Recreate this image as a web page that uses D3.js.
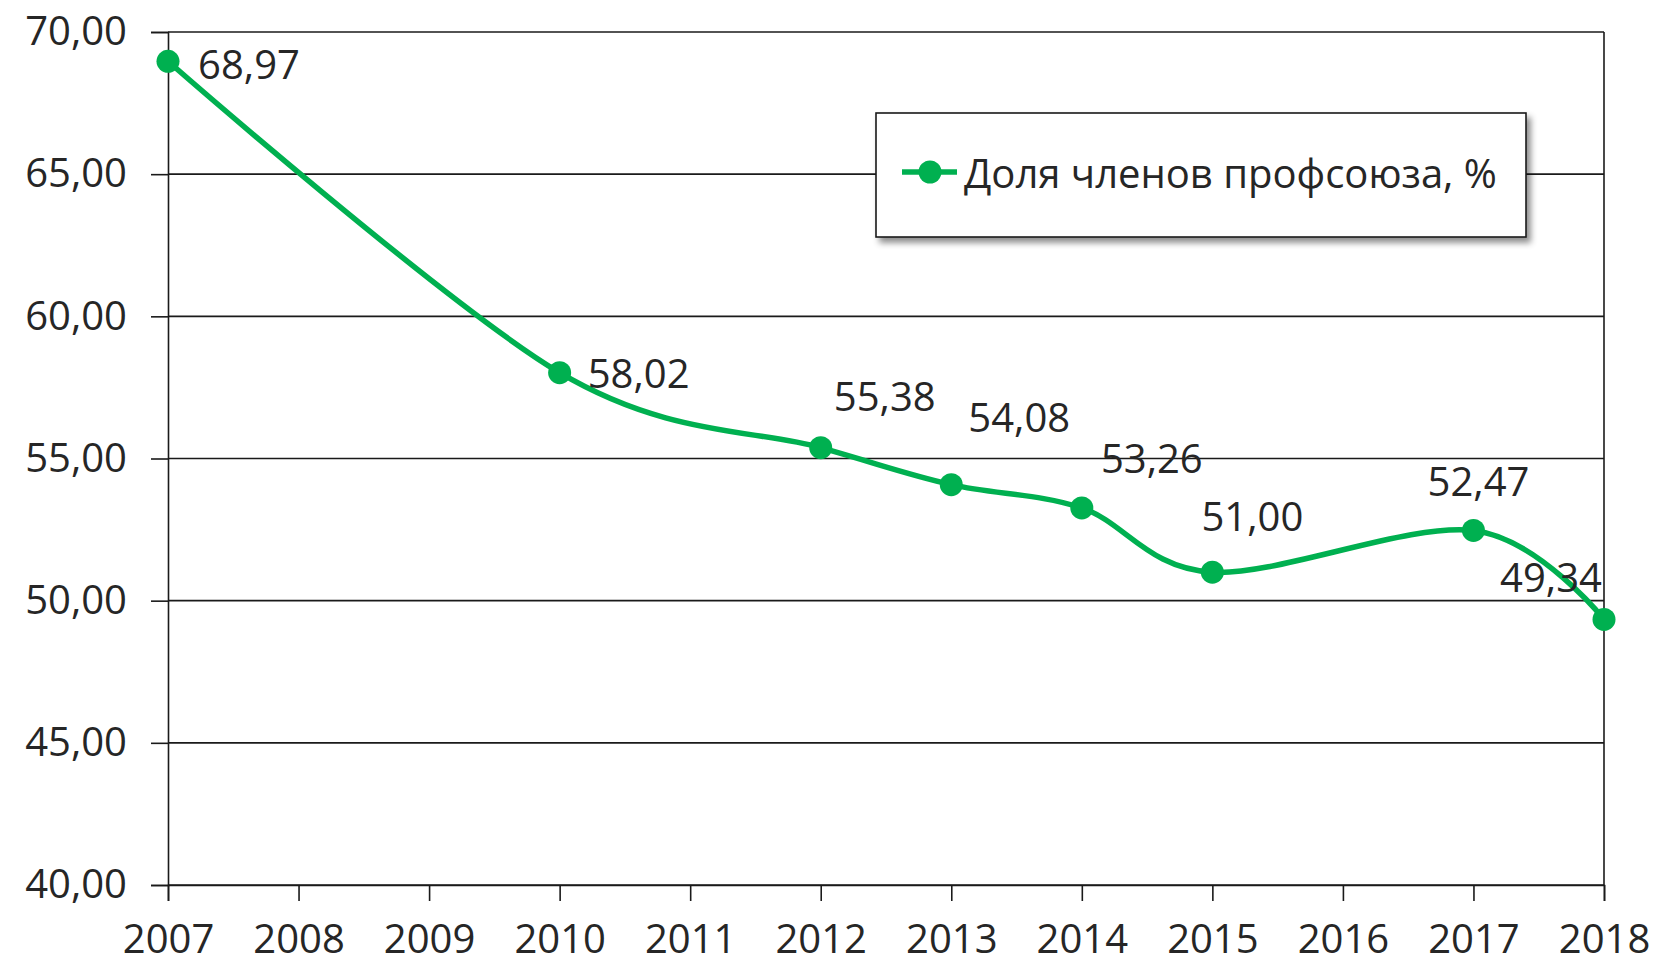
<!DOCTYPE html>
<html>
<head>
<meta charset="utf-8">
<script src="https://cdn.jsdelivr.net/npm/d3@7"></script>
<style>
  body { margin: 0; background: #fff; }
  svg { display: block; font-family: 'Open Sans', sans-serif; }
</style>
</head>
<body>
<svg id="chart"></svg>
<script>
// data
const years = [2007, 2010, 2012, 2013, 2014, 2015, 2017, 2018];
const shares = [68.97, 58.02, 55.38, 54.08, 53.26, 51.00, 52.47, 49.34];
const xTicks = [2007, 2008, 2009, 2010, 2011, 2012, 2013, 2014, 2015, 2016, 2017, 2018];
const yTicks = [40, 45, 50, 55, 60, 65, 70];
const seriesName = 'Доля членов профсоюза, %';

// label nudges (px) so they sit like in the original
const labelDx = [81, 79, 64, 68, 70, 40, 5, -53];
const labelDy = [2, 0, -52, -68, -50, -57, -50, -43];

const green = '#00b050';
const ink = '#262626';

const W = 1658, H = 964;
const margin = {top: 32, bottom: 79, left: 168, right: 54};
const width = W - margin.left - margin.right;
const height = H - margin.top - margin.bottom;

const fmt = d3.formatLocale({decimal: ',', thousands: ' ', grouping: [3], currency: ['', '']}).format('.2f');

const root = d3.select('#chart')
  .attr('width', W)
  .attr('height', H);

const defs = root.append('defs');
const shadow = defs.append('filter')
  .attr('id', 'shadow')
  .attr('x', '-10%').attr('y', '-20%')
  .attr('width', '130%').attr('height', '160%');
shadow.append('feDropShadow')
  .attr('dx', 4).attr('dy', 5)
  .attr('stdDeviation', 3)
  .attr('flood-color', '#000')
  .attr('flood-opacity', 0.45);

const svg = root.append('g')
  .attr('transform', `translate(${margin.left}, ${margin.top})`);

const x = d3.scaleLinear()
  .domain([2007, 2018])
  .range([0, width]);

const y = d3.scaleLinear()
  .domain([40, 70])
  .range([height, 0]);

// gridlines
svg.append('g')
  .selectAll('line')
  .data(yTicks)
  .enter()
  .append('line')
  .attr('x1', 0)
  .attr('x2', width)
  .attr('y1', d => y(d))
  .attr('y2', d => y(d))
  .attr('stroke', '#1a1a1a')
  .attr('stroke-width', 1.6);

// right border
svg.append('line')
  .attr('x1', width).attr('x2', width)
  .attr('y1', 0).attr('y2', height)
  .attr('stroke', '#1a1a1a')
  .attr('stroke-width', 1.6);

// axes
const yAxis = svg.append('g')
  .call(d3.axisLeft(y).tickValues(yTicks).tickSize(17).tickPadding(24).tickFormat(d => fmt(d)));

const xAxis = svg.append('g')
  .attr('transform', `translate(0, ${height})`)
  .call(d3.axisBottom(x).tickValues(xTicks).tickSize(16).tickPadding(24).tickFormat(d3.format('d')));

[yAxis, xAxis].forEach(ax => {
  ax.select('.domain').attr('stroke', '#1a1a1a').attr('stroke-width', 1.6);
  ax.selectAll('.tick line').attr('stroke', '#1a1a1a').attr('stroke-width', 1.6);
  ax.selectAll('.tick text')
    .attr('fill', ink)
    .style('font-size', '40px')
    .style('font-family', "'Open Sans', sans-serif");
});

// line
const line = d3.line()
  .x(d => x(d[0]))
  .y(d => y(d[1]))
  .curve(d3.curveCardinal.tension(0));

const points = years.map((yr, i) => [yr, shares[i]]);

svg.append('path')
  .datum(points)
  .attr('fill', 'none')
  .attr('stroke', green)
  .attr('stroke-width', 5.5)
  .attr('d', line);

svg.selectAll('circle.pt')
  .data(points)
  .enter()
  .append('circle')
  .attr('class', 'pt')
  .attr('cx', d => x(d[0]))
  .attr('cy', d => y(d[1]))
  .attr('r', 11.5)
  .attr('fill', green);

svg.selectAll('text.lbl')
  .data(points)
  .enter()
  .append('text')
  .attr('class', 'lbl')
  .attr('x', (d, i) => x(d[0]) + labelDx[i])
  .attr('y', (d, i) => y(d[1]) + labelDy[i])
  .attr('text-anchor', 'middle')
  .attr('dominant-baseline', 'central')
  .attr('fill', ink)
  .style('font-size', '40px')
  .text(d => fmt(d[1]));

// legend
const legend = root.append('g')
  .attr('transform', 'translate(876, 113)');

legend.append('rect')
  .attr('width', 650)
  .attr('height', 124)
  .attr('fill', '#fff')
  .attr('stroke', '#1a1a1a')
  .attr('stroke-width', 1.6)
  .attr('filter', 'url(#shadow)');

legend.append('line')
  .attr('x1', 26).attr('x2', 81)
  .attr('y1', 59).attr('y2', 59)
  .attr('stroke', green)
  .attr('stroke-width', 5.5);

legend.append('circle')
  .attr('cx', 54).attr('cy', 59)
  .attr('r', 11.5)
  .attr('fill', green);

legend.append('text')
  .attr('x', 88)
  .attr('y', 59)
  .attr('dominant-baseline', 'central')
  .attr('fill', ink)
  .style('font-size', '40px')
  .text(seriesName);
</script>
</body>
</html>
